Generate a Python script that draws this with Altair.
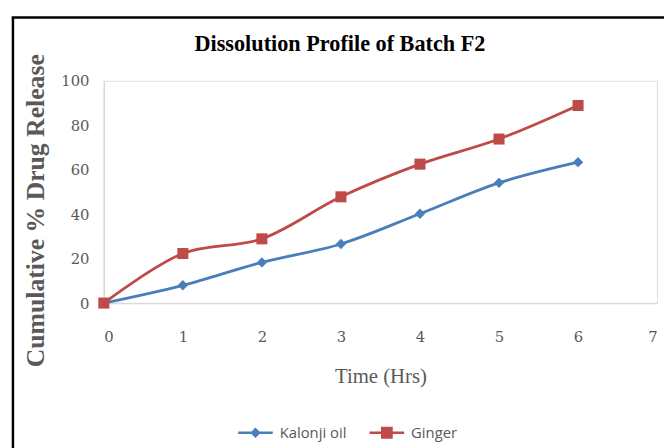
import altair as alt
import pandas as pd

hours = [0, 1, 2, 3, 4, 5, 6]
kalonji = [0, 8.0, 18.3, 26.6, 40.2, 54.1, 63.4]
ginger = [0, 22.3, 28.9, 47.8, 62.5, 73.8, 88.9]
series_names = ["Kalonji oil", "Ginger"]
colors = ["#4a7ebb", "#be4b48"]
x_ticks = [0, 1, 2, 3, 4, 5, 6, 7]
y_ticks = [0, 20, 40, 60, 80, 100]
chart_title = "Dissolution Profile of Batch F2"

rows = []
for h, k, g in zip(hours, kalonji, ginger):
    rows.append({"Time": h, "Release": k, "Series": "Kalonji oil"})
    rows.append({"Time": h, "Release": g, "Series": "Ginger"})
df = pd.DataFrame(rows)

GRAY = "#595959"
AXIS_GRAY = "#d9d9d9"

x_enc = alt.X(
    "Time:Q",
    scale=alt.Scale(domain=[0, 7], nice=False),
    axis=alt.Axis(
        values=x_ticks, format="d", title="Time (Hrs)", grid=False, ticks=False,
        domainColor=AXIS_GRAY, domainWidth=1.5,
        labelFont="DejaVu Serif", labelFontSize=15, labelColor=GRAY, labelPadding=27,
        titleFont="Liberation Serif", titleFontSize=21, titleFontWeight="normal",
        titleColor=GRAY, titleY=74, titleBaseline="middle",
    ),
)
y_enc = alt.Y(
    "Release:Q",
    scale=alt.Scale(domain=[0, 100], nice=False),
    axis=alt.Axis(
        values=y_ticks, format="d", title="Cumulative %  Drug Release", grid=False, ticks=False,
        domainColor=AXIS_GRAY, domainWidth=1.5,
        labelFont="DejaVu Serif", labelFontSize=15, labelColor=GRAY, labelPadding=15,
        titleFont="Liberation Serif", titleFontSize=26, titleFontWeight="bold",
        titleColor=GRAY, titleX=-69, titleY=131, titleBaseline="middle",
    ),
)

base = alt.Chart(df)


def series_layers(name, color, shape, size):
    sub = base.transform_filter(alt.datum.Series == name)
    ln = sub.mark_line(interpolate="catmull-rom", strokeWidth=2.8, color=color).encode(
        x=x_enc, y=y_enc
    )
    pt = sub.mark_point(shape=shape, filled=True, size=size, opacity=1, color=color).encode(
        x="Time:Q", y="Release:Q"
    )
    return [ln, pt]


layers = []
layers += series_layers("Kalonji oil", colors[0], "diamond", 110)
layers += series_layers("Ginger", colors[1], "square", 125)

legend_paths = [
    "M-1,-0.075H1V0.075H-1Z M0,-0.3L0.3,0L0,0.3L-0.3,0Z",
    "M-1,-0.075H1V0.075H-1Z M-0.34,-0.34H0.34V0.34H-0.34Z",
]

# legend-only layer: no marks drawn (all rows filtered out), legend built from the scale domain
legend_layer = base.transform_filter(alt.datum.Time < -1).mark_point(filled=True, opacity=1).encode(
    x="Time:Q", y="Release:Q",
    color=alt.Color(
        "Series:N", scale=alt.Scale(domain=series_names, range=colors),
        legend=alt.Legend(
            title=None, orient="none", legendX=136, legendY=338.5,
            direction="horizontal", symbolSize=1225, symbolOpacity=1,
            symbolStrokeWidth=0, labelFont="Open Sans", labelFontSize=15,
            labelColor=GRAY, labelOffset=7, columnPadding=23, padding=0,
        ),
    ),
    shape=alt.Shape("Series:N", scale=alt.Scale(domain=series_names, range=legend_paths)),
)
layers.append(legend_layer)

single = alt.Data(values=[{"title": chart_title}])
title_text = alt.Chart(single).mark_text(
    font="Liberation Serif", fontSize=22.5, fontWeight="bold", color="black",
    align="center", baseline="alphabetic",
).encode(text="title:N", x=alt.value(239), y=alt.value(-30))
layers.append(title_text)

left_border = alt.Chart(single).mark_rule(color="black", strokeWidth=2.5).encode(
    x=alt.value(-92), y=alt.value(-64), y2=alt.value(400)
)
top_border = alt.Chart(single).mark_rule(color="black", strokeWidth=2.5).encode(
    x=alt.value(-93.25), x2=alt.value(600), y=alt.value(-64)
)
layers += [left_border, top_border]

chart = alt.layer(*layers).properties(
    width=560,
    height=225,
    autosize=alt.AutoSizeParams(type="none"),
    padding={"left": 97, "top": 71, "right": 7, "bottom": 144},
).configure_view(strokeWidth=0).configure(background="white")

chart.save("out.html", embed_options={"renderer": "svg", "actions": False})
